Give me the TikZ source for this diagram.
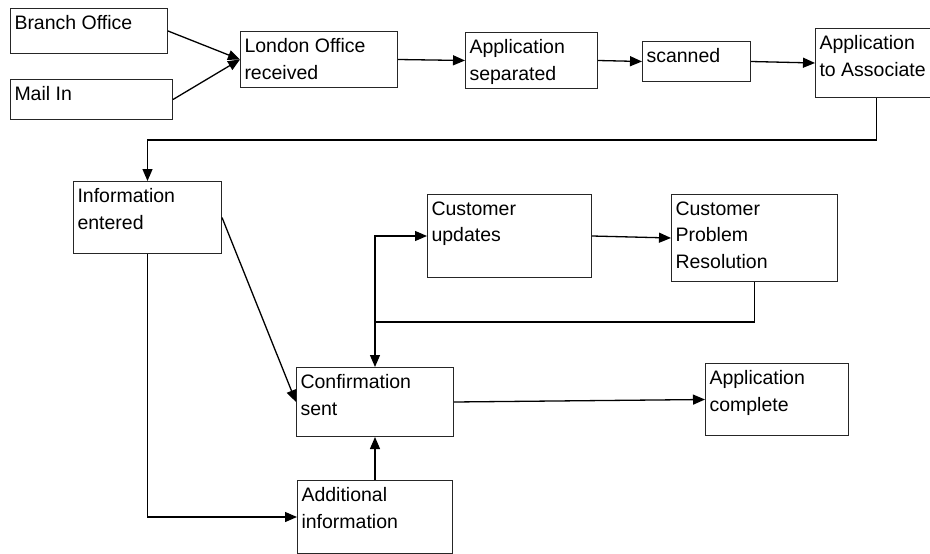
\documentclass[tikz,border=0pt]{standalone}
\usepackage{fontspec}
\setmainfont{Liberation Sans}
\usetikzlibrary{arrows.meta}

\newcommand{\boxtext}[3]{\parbox[t][#2pt][t]{#1pt}{#3}}

\tikzset{
    stage/.style={draw=black!85, line width=1pt, anchor=north west,
        inner xsep=4pt, inner ysep=7pt,
        font=\fontsize{19.5}{26.5}\selectfont},
    flow/.style={line width=1.3pt, -{Triangle[length=12pt, width=10pt]}}
}

\begin{document}
\begin{tikzpicture}[x=1pt, y=-1pt]
    \useasboundingbox (0, 0) rectangle (930, 554);

    \node [stage] (branch) at (10, 8) {\boxtext{149}{31}{Branch Office}};
    \node [stage] (mail) at (10, 79) {\boxtext{154}{26}{Mail In}};
    \node [stage] (london) at (240, 31) {\boxtext{149}{42}{London Office\\received}};
    \node [stage] (separated) at (465, 32) {\boxtext{124}{42}{Application\\separated}};
    \node [stage] (scanned) at (642, 41) {\boxtext{100}{26}{scanned}};
    \node [stage] (associate) at (815, 28) {\boxtext{114}{55}{Application\\to Associate}};

    \node [stage] (entered) at (73, 181) {\boxtext{140}{58}{Information\\entered}};
    \node [stage] (updates) at (427, 194) {\boxtext{156}{69}{Customer\\updates}};
    \node [stage] (problem) at (671, 194) {\boxtext{158}{73}{Customer\\Problem\\Resolution}};
    \node [stage] (confirm) at (296, 367) {\boxtext{149}{55}{Confirmation\\sent}};
    \node [stage] (complete) at (705, 363) {\boxtext{135}{58}{Application\\complete}};
    \node [stage] (additional) at (297, 480) {\boxtext{147}{59}{Additional\\information}};

    \coordinate (loop) at (confirm.north |- 0, 322);

    \draw [flow] (branch.east) -- (london.west);
    \draw [flow] (mail.east) -- (london.west);
    \draw [flow] (london.east) -- (separated.west);
    \draw [flow] (separated.east) -- (scanned.west);
    \draw [flow] (scanned.east) -- (associate.west);
    \draw [flow] (associate.south) -- ++(0, 42) -| (entered.north);

    \draw [flow] (entered.east) -- (confirm.west);
    \draw [flow] (entered.south) |- (additional.west);
    \draw [flow] (additional.north) -- (confirm.south);
    \draw [flow] (confirm.east) -- (complete.west);
    \draw [flow] (updates.east) -- (problem.west);
    \draw [flow] (problem.south) |- (loop) -- (confirm.north);
    \draw [flow] (loop) |- (updates.west);
\end{tikzpicture}
\end{document}
